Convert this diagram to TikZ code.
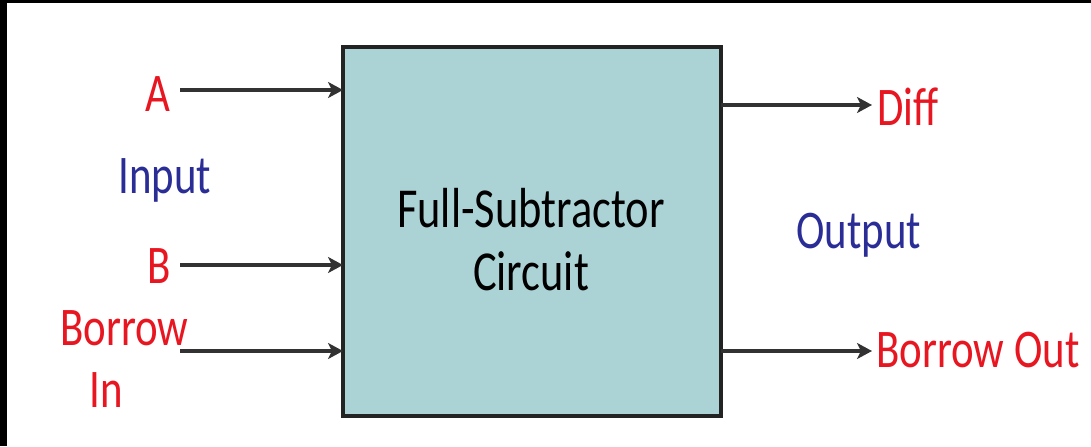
\documentclass[tikz,border=0pt]{standalone}
\usepackage{fontspec}
\usepackage{graphicx}
\setmainfont{Carlito}
\usetikzlibrary{arrows.meta}
\definecolor{lblred}{RGB}{232,22,32}
\definecolor{lblblue}{RGB}{42,45,150}
\definecolor{boxfill}{RGB}{171,211,214}
\definecolor{boxline}{RGB}{35,35,35}
\definecolor{wire}{RGB}{50,50,50}
\newcommand{\vtext}[1]{\scalebox{1}[1.27]{#1}}
\tikzset{
  lbl/.style={inner sep=0pt, anchor=base west, font=\fontsize{24.4}{29}\selectfont},
  redlbl/.style={lbl, text=lblred},
  bluelbl/.style={lbl, text=lblblue},
  blocktxt/.style={inner sep=0pt, anchor=base, font=\fontsize{25.3}{30}\selectfont, text=black},
  wirearrow/.style={draw=wire, line width=0.07cm, -{Stealth[length=0.3cm,width=0.32cm,inset=0.08cm]}},
  block/.style={draw=boxline, fill=boxfill, line width=0.075cm}
}
\begin{document}
\begin{tikzpicture}[x=0.02cm, y=-0.02cm]
\useasboundingbox (0,0) rectangle (1091,446);
\fill[white] (0,0) rectangle (1091,446);
\fill[black] (0,0) rectangle (1091,3);
\fill[black] (0,0) rectangle (7,446);
% block
\draw[block] (343,47) rectangle (721,416);
\coordinate (blkW) at (343,200);
\coordinate (blkE) at (721,200);
\node[blocktxt] (t1) at (531,227) {\vtext{Full-Subtractor}};
\node[blocktxt] (t2) at (531,290) {\vtext{Circuit}};
% labels
\node[redlbl] (lA) at (145,112) {\vtext{A}};
\node[redlbl] (lB) at (147,283) {\vtext{B}};
\node[bluelbl] (lIn) at (118,193) {\vtext{Input}};
\node[redlbl] (lBor) at (60,345) {\vtext{Borrow}};
\node[redlbl] (lBin) at (89,407) {\vtext{In}};
\node[redlbl] (lDiff) at (877,125) {\vtext{Diff}};
\node[bluelbl] (lOut) at (796,248) {\vtext{Output}};
\node[redlbl] (lBout) at (876,367) {\vtext{Borrow Out}};
% wire coordinates
\coordinate (aS) at (180,90);
\coordinate (bS) at (180,265);
\coordinate (cS) at (180,351);
\coordinate (dE) at (872,105);
\coordinate (eE) at (872,351);
% arrows
\draw[wirearrow] (aS) -- (aS -| blkW);
\draw[wirearrow] (bS) -- (bS -| blkW);
\draw[wirearrow] (cS) -- (cS -| blkW);
\draw[wirearrow] (dE -| blkE) -- (dE);
\draw[wirearrow] (eE -| blkE) -- (eE);
\end{tikzpicture}
\end{document}
